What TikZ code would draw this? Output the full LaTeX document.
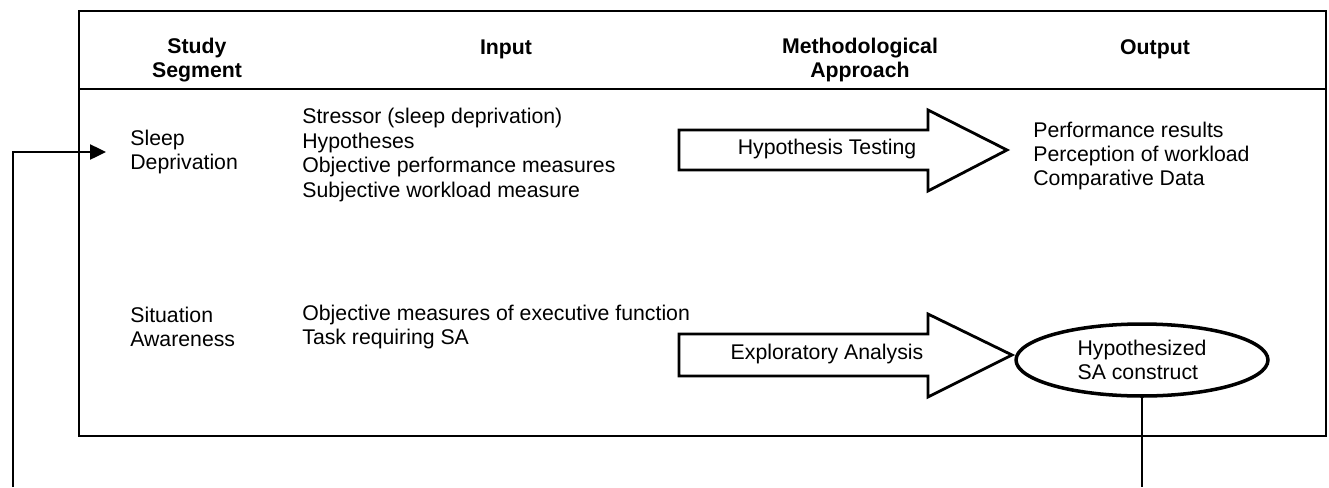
\documentclass[tikz,border=0pt]{standalone}
\usepackage{fontspec}
\setmainfont{Liberation Sans}
\usepackage{tikz}
\usetikzlibrary{arrows.meta,shapes.geometric}

\begin{document}
\begin{tikzpicture}[x=0.02cm, y=-0.02cm,
    every node/.style={font=\fontsize{12.1pt}{13.9pt}\selectfont},
    head/.style={font=\fontsize{12.1pt}{13.9pt}\selectfont\bfseries, align=center, inner sep=0},
    item/.style={anchor=west, align=left, inner sep=0},
    fatarrow/.style={line width=1.6pt, line join=miter},
    link/.style={line width=1.4pt}]
    \useasboundingbox ({0}, {0}) rectangle ({1329}, {487});

    % Table frame and header rule
    \draw[line width=1.1pt] ({79}, {11}) rectangle ({1326}, {436});
    \draw[line width=1.1pt] ({79}, {89}) -- ({1326}, {89});

    % Column heads
    \node[head] (hseg) at ({197}, {60}) {Study\\Segment};
    \node[head] (hin) at ({506}, {49}) {Input};
    \node[head] (happ) at ({860}, {60}) {Methodological\\Approach};
    \node[head] (hout) at ({1155}, {49}) {Output};

    % Row 1
    \node[item] (sleep) at ({130}, {152}) {Sleep\\Deprivation};
    \node[item] (sleepin) at ({302}, {155}) {Stressor (sleep deprivation)\\Hypotheses\\Objective performance measures\\Subjective workload measure};
    \draw[fatarrow] ({679}, {130}) -- ({928}, {130}) -- ({928}, {110}) -- ({1007}, {150})
        -- ({928}, {191}) -- ({928}, {170}) -- ({679}, {170}) -- cycle;
    \node (hyptest) at ({827}, {149}) {Hypothesis Testing};
    \node[item] (sleepout) at ({1033}, {156}) {Performance results\\Perception of workload\\Comparative Data};

    % Row 2
    \node[item] (sa) at ({130}, {327}) {Situation\\Awareness};
    \node[item] (sain) at ({302}, {327}) {Objective measures of executive function\\Task requiring SA};
    \draw[fatarrow] ({679}, {334}) -- ({928}, {334}) -- ({928}, {314}) -- ({1012}, {355})
        -- ({928}, {397}) -- ({928}, {376}) -- ({679}, {376}) -- cycle;
    \node (explore) at ({827}, {354}) {Exploratory Analysis};
    \node[draw, ellipse, line width=2pt, align=left, inner sep=0,
          minimum width=5.04cm, minimum height=1.44cm] (sacon) at ({1142}, {360})
          {Hypothesized\\SA construct};

    % Feedback lines leaving the frame
    \coordinate (lbot) at ({13}, {487});
    \coordinate (rbot) at ({1143}, {487});
    \draw[link] (sacon.south) -- (sacon.south |- rbot);
    \draw[link, -{Triangle[length=0.32cm, width=0.3cm]}, shorten >=0.48cm] (lbot) |- (sleep.west);
\end{tikzpicture}
\end{document}
